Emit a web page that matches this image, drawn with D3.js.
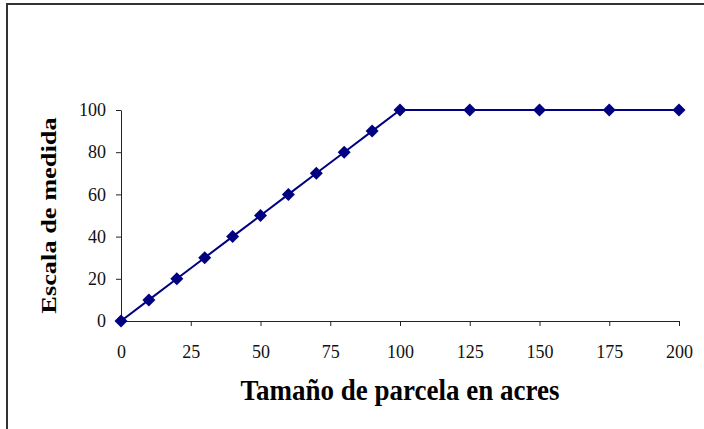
<!DOCTYPE html>
<html>
<head>
<meta charset="utf-8">
<script src="https://cdn.jsdelivr.net/npm/d3@7"></script>
<style>
  html, body { margin: 0; padding: 0; background: #fff; }
  svg { display: block; }
  .tick text { font-family: "Liberation Serif", "Times New Roman", serif !important; font-size: 18px !important; }
</style>
</head>
<body>
<svg id="chart" width="704" height="429"></svg>
<script>
const xValues = [0, 10, 20, 30, 40, 50, 60, 70, 80, 90, 100, 125, 150, 175, 200];
const yValues = [0, 10, 20, 30, 40, 50, 60, 70, 80, 90, 100, 100, 100, 100, 100];
const xTicks = [0, 25, 50, 75, 100, 125, 150, 175, 200];
const yTicks = [0, 20, 40, 60, 80, 100];
const xTitle = "Tamaño de parcela en acres";
const yTitle = "Escala de medida";

const svg = d3.select("#chart");
const W = 704, H = 429;
const plot = { left: 121, right: 679, top: 110, bottom: 321 };

// outer frame (right/bottom edges fall outside the picture)
svg.append("rect")
  .attr("x", 7).attr("y", 4)
  .attr("width", W + 20).attr("height", H + 20)
  .attr("fill", "#fff")
  .attr("stroke", "#333").attr("stroke-width", 2);

const x = d3.scaleLinear().domain([0, 200]).range([plot.left, plot.right]);
const y = d3.scaleLinear().domain([0, 100]).range([plot.bottom, plot.top]);

const fontSerif = "Liberation Serif, Times New Roman, serif";

const xAxis = svg.append("g")
  .attr("transform", `translate(0,${plot.bottom})`)
  .call(d3.axisBottom(x).tickValues(xTicks).tickSize(5).tickSizeOuter(0).tickPadding(19).tickFormat(d3.format("d")));
const yAxis = svg.append("g")
  .attr("transform", `translate(${plot.left},0)`)
  .call(d3.axisLeft(y).tickValues(yTicks).tickSize(5).tickSizeOuter(0).tickPadding(10).tickFormat(d3.format("d")));

[xAxis, yAxis].forEach(a => {
  a.attr("font-family", fontSerif).attr("font-size", 18);
  a.selectAll("path.domain").attr("stroke", "#222").attr("stroke-width", 1);
  a.selectAll(".tick line").attr("stroke", "#222").attr("stroke-width", 1);
  a.selectAll(".tick text")
    .attr("fill", "#111")
    .attr("font-family", fontSerif)
    .attr("font-size", 18);
});

// line
const line = d3.line().x((d, i) => x(xValues[i])).y(d => y(d));
svg.append("path")
  .datum(yValues)
  .attr("d", line)
  .attr("fill", "none")
  .attr("stroke", "#000080")
  .attr("stroke-width", 2);

// diamond markers
const r = 6.5;
svg.append("g").selectAll("path")
  .data(yValues)
  .join("path")
  .attr("transform", (d, i) => `translate(${x(xValues[i])},${y(d)})`)
  .attr("d", `M0,${-r}L${r},0L0,${r}L${-r},0Z`)
  .attr("fill", "#000080");

// axis titles
svg.append("text")
  .attr("transform", `translate(${(plot.left + plot.right) / 2},400) scale(1,1.12)`)
  .attr("text-anchor", "middle")
  .attr("font-family", fontSerif)
  .attr("font-weight", "bold")
  .attr("font-size", 27)
  .attr("fill", "#000")
  .text(xTitle);

svg.append("text")
  .attr("transform", `translate(56,${(plot.top + plot.bottom) / 2}) rotate(-90) scale(1.2,1)`)
  .attr("text-anchor", "middle")
  .attr("font-family", fontSerif)
  .attr("font-weight", "bold")
  .attr("font-size", 22)
  .attr("fill", "#000")
  .text(yTitle);
</script>
</body>
</html>
